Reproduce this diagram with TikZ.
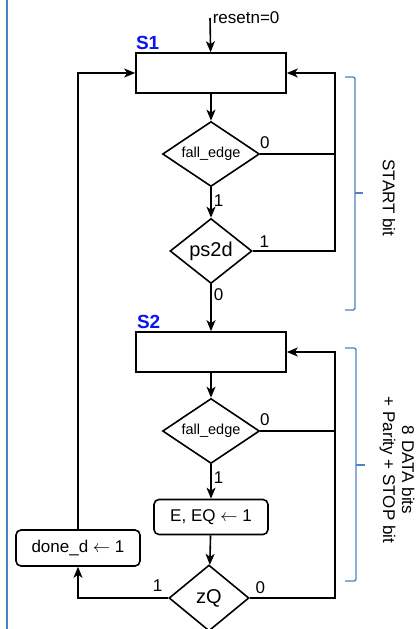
\documentclass[tikz,border=0pt]{standalone}
\usepackage{fontspec}
\setmainfont{Liberation Sans}
\usepackage{xcolor}
\usetikzlibrary{positioning, arrows.meta, shapes.geometric, calc}
\definecolor{statename}{HTML}{0A14F0}
\definecolor{bracket}{HTML}{4F81BD}
\newcommand{\txt}{\fontsize{17}{19}\selectfont}

\begin{document}
\begin{tikzpicture}[x=1pt, y=-1pt, line width=1.6pt,
  every node/.style={font=\txt, align=center},
  arr/.style={-{Stealth[length=11pt, width=9pt, inset=3pt]}},
  stbox/.style={draw, minimum width=150pt, minimum height=40pt},
  actbox/.style={draw, rounded corners=5pt, inner sep=0pt, minimum height=35pt},
  decide/.style={draw, diamond, inner sep=0pt},
  stname/.style={font=\fontsize{19}{21}\selectfont\bfseries, text=statename, inner sep=2pt},
  lbl/.style={inner sep=2pt},
  brace/.style={draw=bracket, line width=1.3pt, rounded corners=2pt}]
\useasboundingbox (0,0) rectangle (420,629);

% frame line on the left
\draw[bracket, line width=1.5pt] (7,0) -- (7,629);

% state S1
\coordinate (rst) at (210,18);
\node[stbox] (s1) at (211,73) {};
\node[stname, anchor=south west, xshift=-2pt] (n1) at (s1.north west) {S1};
\node[anchor=west, inner sep=2pt] (rlbl) at (rst) {resetn=0};
\node[decide, aspect=1.5, minimum width=97pt, minimum height=65pt] (fe1) at (211,154)
  {\fontsize{14.5}{16}\selectfont fall\_edge};
\node[decide, aspect=1.26, minimum width=82pt, minimum height=65pt] (ps) at (211,251)
  {\fontsize{20}{22}\selectfont ps2d};

% state S2
\node[stbox] (s2) at (211,352) {};
\node[stname, anchor=south west, xshift=-1pt] (n2) at (s2.north west) {S2};
\node[decide, aspect=1.5, minimum width=97pt, minimum height=65pt] (fe2) at (211,431)
  {\fontsize{14.5}{16}\selectfont fall\_edge};
\node[actbox, minimum width=114pt] (eq) at (211,517) {E, EQ $\leftarrow$ 1};
\node[decide, aspect=1.21, minimum width=80pt, minimum height=66pt] (zq) at (209,598)
  {\fontsize{20}{22}\selectfont zQ};
\node[actbox, minimum width=124pt, minimum height=36pt] (done) at (78,548) {done\_d $\leftarrow$ 1};

\coordinate (rx) at (335,0);

% connectors
\draw[arr] (rst) -- (s1);
\draw[arr] (s1) -- (fe1);
\draw[arr] (fe1) -- node[lbl, right, pos=0.45] {1} (ps);
\draw[arr] (fe1.east) node[lbl, above right, xshift=-3pt, yshift=3pt] {0}
  -- (fe1.east -| rx) |- (s1.east);
\draw (ps.east) node[lbl, above right, xshift=4pt, yshift=1pt] {1}
  -- (ps.east -| rx) -- (fe1.east -| rx);
\draw[arr] (ps) -- node[lbl, right, pos=0.22] {0} (s2);

\draw[arr] (s2) -- (fe2);
\draw[arr] (fe2) -- node[lbl, right, pos=0.4] {1} (eq);
\draw[arr] (eq) -- (zq);
\draw (fe2.east) node[lbl, above right, xshift=-3pt, yshift=3pt] {0} -- (fe2.east -| rx);
\draw[arr] (zq.east) node[lbl, above right, xshift=3pt, yshift=2pt] {0}
  -- (zq.east -| rx) |- (s2.east);
\draw[arr] (zq.west) node[lbl, above left, xshift=-3pt, yshift=4pt] {1} -| (done.south);
\draw[arr] (done.north) |- (s1.west);

% brackets with notes
\draw[brace] (345,77) -- (355,77) -- (355,310) -- (345,310);
\draw[brace] (355,193) -- (363,193);
\node[rotate=-90] (t1) at (389,198) {START bit};

\draw[brace] (345,348) -- (356,348) -- (356,581) -- (345,581);
\draw[brace] (356,465) -- (365,465);
\node[rotate=-90] (t2) at (397,470) {8 DATA bits\\+ Parity + STOP bit};
\end{tikzpicture}
\end{document}
